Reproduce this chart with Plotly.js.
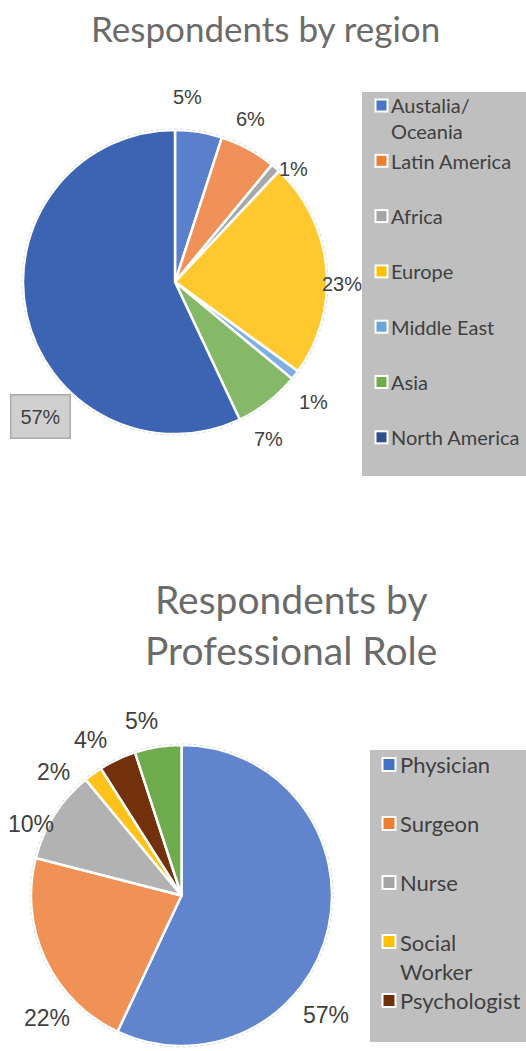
<!DOCTYPE html>
<html>
<head>
<meta charset="utf-8">
<script src="https://cdn.plot.ly/plotly-3.0.1.min.js"></script>
<style>
  html, body { margin: 0; padding: 0; background: #ffffff; }
  #chart { width: 526px; height: 1051px; }
</style>
</head>
<body>
<div id="chart"></div>
<script>
// ---------- DATA ----------
const regionLabels = ['Austalia/ Oceania', 'Latin America', 'Africa', 'Europe', 'Middle East', 'Asia', 'North America'];
const regionValues = [5, 6, 1, 23, 1, 7, 57];
const regionLegendText = ['Austalia/<br>Oceania', 'Latin America', 'Africa', 'Europe', 'Middle East', 'Asia', 'North America'];

const roleLabels = ['Physician', 'Surgeon', 'Nurse', 'Social Worker', 'Psychologist', 'Other'];
const roleValues = [57, 22, 10, 2, 4, 5];
// the legend box in the original is cut off after "Psychologist"
const roleLegendText = ['Physician', 'Surgeon', 'Nurse', 'Social<br>Worker', 'Psychologist'];

const title1 = 'Respondents by region';
const title2 = 'Respondents by<br>Professional Role';

// ---------- STYLE ----------
const regionSliceColors = ['#5a80cb', '#f0915a', '#a8a8a8', '#ffc82e', '#7cb0e2', '#85b968', '#3d64b3'];
const regionKeyColors   = ['#4a76c6', '#ed7d31', '#a5a5a5', '#ffc000', '#6aa5dc', '#70ad47', '#2d4f8f'];
const roleSliceColors   = ['#6185cc', '#f09256', '#b2b2b2', '#ffc21a', '#72300b', '#6faa4d'];
const roleKeyColors     = ['#4472c4', '#ed7d31', '#a5a5a5', '#ffc000', '#70300a'];

// label placement style (angular nudge in degrees from slice middle, distance of label centre in px)
const regionLabelNudge = [-5, -4, 5, 6, 3, 7, 0];
const regionLabelDist  = [185, 180, 164, 167, 183, 183, 0];
const roleLabelNudge   = [27, -17, -7, -10, -5, -4];
const roleLabelDist    = [188, 182, 167, 178, 180, 179];

const W = 526, H = 1051;
const px = v => v / W;
const py = v => 1 - v / H;

const labelFont = 'Liberation Sans, Arial, sans-serif';
const uiFont = 'Lato, "Open Sans", sans-serif';

// pie geometry (pixels)
const pieA = { cx: 175, cy: 282, r: 152 };
const pieB = { cx: 181.5, cy: 895.5, r: 150.5 };
const dom = p => ({ x: [px(p.cx - p.r), px(p.cx + p.r)], y: [py(p.cy + p.r), py(p.cy - p.r)] });

// ---------- TRACES ----------
const pie1 = {
  type: 'pie',
  labels: regionLabels,
  values: regionValues,
  sort: false,
  direction: 'clockwise',
  rotation: 0,
  textinfo: 'none',
  marker: { colors: regionSliceColors, line: { color: '#ffffff', width: 2.5 } },
  domain: dom(pieA),
  showlegend: false,
  hoverinfo: 'label+percent'
};

const pie2 = {
  type: 'pie',
  labels: roleLabels,
  values: roleValues,
  sort: false,
  direction: 'clockwise',
  rotation: 0,
  textinfo: 'none',
  marker: { colors: roleSliceColors, line: { color: '#ffffff', width: 2.5 } },
  domain: dom(pieB),
  showlegend: false,
  hoverinfo: 'label+percent'
};

const shapes = [];
const annotations = [];

// faint outer outline around each pie
[pieA, pieB].forEach(p => {
  shapes.push({
    type: 'circle', xref: 'paper', yref: 'paper', layer: 'above',
    x0: px(p.cx - p.r - 1), x1: px(p.cx + p.r + 1), y0: py(p.cy + p.r + 1), y1: py(p.cy - p.r - 1),
    line: { color: '#d2d2d2', width: 0.8, dash: 'dot' }
  });
});

// ---------- PERCENT LABELS ----------
function pieLabels(values, pie, nudges, dists, fs, skip) {
  const total = values.reduce((a, b) => a + b, 0);
  let cum = 0;
  values.forEach((v, i) => {
    const mid = (cum + v / 2) / total * 360;
    cum += v;
    if (skip.includes(i)) return;
    const a = (mid + nudges[i]) * Math.PI / 180;
    annotations.push({
      xref: 'paper', yref: 'paper',
      x: px(pie.cx + dists[i] * Math.sin(a)), y: py(pie.cy - dists[i] * Math.cos(a)),
      xanchor: 'center', yanchor: 'middle', showarrow: false,
      text: Math.round(100 * v / total) + '%',
      font: { family: labelFont, size: fs, color: '#404040' }
    });
  });
}
pieLabels(regionValues, pieA, regionLabelNudge, regionLabelDist, 20, [regionValues.length - 1]);
pieLabels(roleValues, pieB, roleLabelNudge, roleLabelDist, 23, []);

// boxed label for the large North America slice (moved to lower left in the original)
const naPct = Math.round(100 * regionValues[regionValues.length - 1] / regionValues.reduce((a, b) => a + b, 0)) + '%';
{
  const a = 225 * Math.PI / 180, d = 190;
  annotations.push({
    xref: 'paper', yref: 'paper',
    x: px(pieA.cx + d * Math.sin(a)), y: py(pieA.cy - d * Math.cos(a)),
    xanchor: 'center', yanchor: 'middle', showarrow: false,
    text: naPct, font: { family: labelFont, size: 20, color: '#404040' },
    bgcolor: '#cfcfcf', bordercolor: '#ababab', borderwidth: 1.5, borderpad: 10,
    width: 38
  });
}

// ---------- LEGENDS (drawn as shapes + annotations) ----------
function drawLegend(box, texts, colors, firstY, step, fs, markerX, textX, mSize, lineH) {
  shapes.push({
    type: 'rect', xref: 'paper', yref: 'paper', layer: 'below',
    x0: px(box[0]), x1: px(box[1]), y0: py(box[3]), y1: py(box[2]),
    fillcolor: '#bfbfbf', line: { width: 0 }
  });
  texts.forEach((t, i) => {
    const cy = firstY + i * step;
    const h = mSize / 2;
    shapes.push({
      type: 'rect', xref: 'paper', yref: 'paper',
      x0: px(markerX - h - 2), x1: px(markerX + h + 2), y0: py(cy + h + 2), y1: py(cy - h - 2),
      fillcolor: '#ffffff', line: { width: 0 }
    });
    shapes.push({
      type: 'rect', xref: 'paper', yref: 'paper',
      x0: px(markerX - h), x1: px(markerX + h), y0: py(cy + h), y1: py(cy - h),
      fillcolor: colors[i], line: { width: 0 }
    });
    const nLines = t.split('<br>').length;
    annotations.push({
      xref: 'paper', yref: 'paper', x: px(textX), y: py(cy + (nLines - 1) * lineH / 2),
      xanchor: 'left', yanchor: 'middle', align: 'left', showarrow: false,
      text: t, font: { family: uiFont, size: fs, color: '#404040' }
    });
  });
}

drawLegend([362, 530, 92, 476], regionLegendText, regionKeyColors, 105.5, 55.3, 20, 381.5, 389, 10, 26);
drawLegend([370, 530, 750, 1042], roleLegendText, roleKeyColors, 764.5, 59, 22, 389, 398, 11, 31);

// ---------- TITLES ----------
annotations.push({
  xref: 'paper', yref: 'paper', x: px(265), y: py(28),
  xanchor: 'center', yanchor: 'middle', showarrow: false,
  text: title1, font: { family: uiFont, size: 35, color: '#6b6b6b' }
});
annotations.push({
  xref: 'paper', yref: 'paper', x: px(291), y: py(624),
  xanchor: 'center', yanchor: 'middle', showarrow: false,
  text: title2, font: { family: uiFont, size: 39, color: '#6b6b6b' }
});

const layout = {
  width: W, height: H,
  margin: { l: 0, r: 0, t: 0, b: 0 },
  paper_bgcolor: '#ffffff',
  plot_bgcolor: '#ffffff',
  showlegend: false,
  shapes: shapes,
  annotations: annotations
};

Plotly.newPlot('chart', [pie1, pie2], layout, { displayModeBar: false, staticPlot: true });
</script>
</body>
</html>
